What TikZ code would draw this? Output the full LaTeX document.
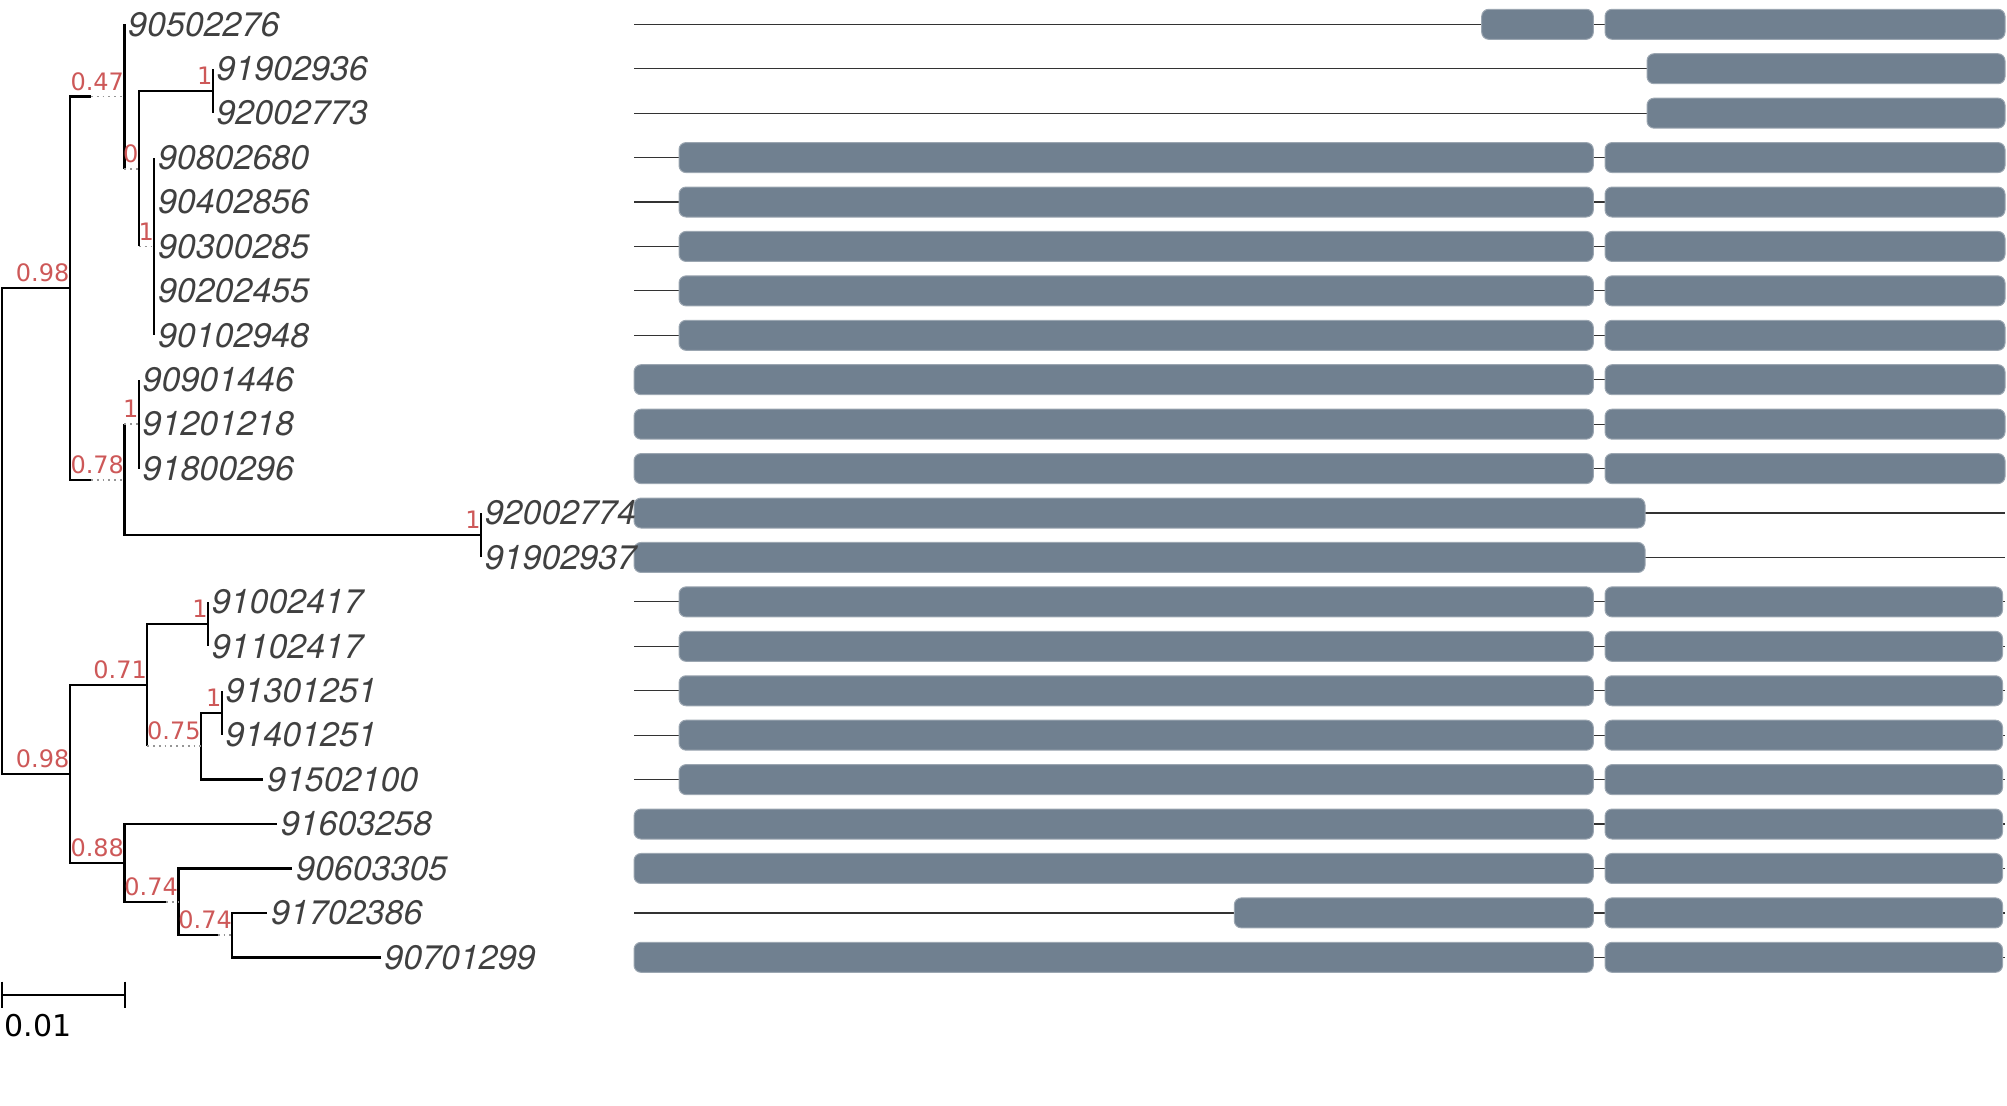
\documentclass[tikz,border=0pt]{standalone}
\usepackage{fontspec}
\usepackage{tikz}
\newfontfamily\leaffont[Numbers=Monospaced]{TeX Gyre Heros}
\newfontfamily\supfont{DejaVu Sans}
\definecolor{SupportRed}{RGB}{205,88,88}
\definecolor{LeafGray}  {RGB}{64,64,64}
\definecolor{BarSlate}  {RGB}{112,128,144}
\definecolor{ExtGray}   {RGB}{150,150,150}

\begin{document}
\begin{tikzpicture}[x=0.5pt,y=-0.5pt,
  branch/.style={draw=black,line width=1.2pt},
  ext/.style={draw=ExtGray,line width=0.9pt,dotted},
  sup/.style={anchor=base east,inner sep=0pt,yshift=3.2pt,text=SupportRed,
              font=\supfont\fontsize{12}{13}\selectfont},
  leaf/.style={anchor=west,inner xsep=1.9pt,inner ysep=0pt,outer sep=0pt,
               text=LeafGray,font=\leaffont\itshape\fontsize{17}{18}\selectfont},
  track/.style={draw=black!80,line width=0.6pt},
  bar/.style={fill=BarSlate,draw=BarSlate!70!white,line width=0.5pt,
              rounded corners=3.5pt}]
  \useasboundingbox (0,0) rectangle (2007,1106);
  %% Tracks and bars
  \foreach \r in {0,...,21}
    \draw[track] (634,24.3+44.43*\r) -- (2005,24.3+44.43*\r);
  \foreach \r/\s/\e in {0/1481.7/2005,3/679/2005,4/679/2005,5/679/2005,
      6/679/2005,7/679/2005,8/634/2005,9/634/2005,10/634/2005,
      13/679/2002.5,14/679/2002.5,15/679/2002.5,16/679/2002.5,17/679/2002.5,
      18/634/2002.5,19/634/2002.5,20/1234.3/2002.5,21/634/2002.5}{
    \draw[bar] (\s,{24.3+44.43*\r-15}) rectangle (1593.3,{24.3+44.43*\r+15});
    \draw[bar] (1605,{24.3+44.43*\r-15}) rectangle (\e,{24.3+44.43*\r+15});
  }
  \foreach \r/\s/\e in {1/1647/2005,2/1647/2005,11/634/1645,12/634/1645}
    \draw[bar] (\s,{24.3+44.43*\r-15}) rectangle (\e,{24.3+44.43*\r+15});
  %% Leaves
  \foreach \id/\r/\x in {90502276/0/124.4,91902936/1/212.7,92002773/2/212.7,
      90802680/3/154.2,90402856/4/154.2,90300285/5/154.2,90202455/6/154.2,
      90102948/7/154.2,90901446/8/138.9,91201218/9/138.9,91800296/10/138.9,
      92002774/11/481,91902937/12/481,91002417/13/208,91102417/14/208,
      91301251/15/221.8,91401251/16/221.8,91502100/17/263.3,91603258/18/277,
      90603305/19/292.3,91702386/20/267.4,90701299/21/380.6}
    \node[leaf] (s\id) at (\x,24.3+44.43*\r) {\id};
  %% Inner nodes
  \coordinate (R) at (2,531.1);
  \coordinate (A) at (69.7,288.1);
  \coordinate (B) at (124.4,96.5);    \coordinate (Bs) at (91,96.5);
  \coordinate (D) at (138.9,168.7);   \coordinate (Ds) at (124.4,168.7);
  \coordinate (E) at (212.7,90.95);
  \coordinate (F) at (154.2,246.45);  \coordinate (Fs) at (138.9,246.45);
  \coordinate (C) at (124.4,479.71);  \coordinate (Cs) at (91,479.71);
  \coordinate (G) at (138.9,424.17);  \coordinate (Gs) at (124.4,424.17);
  \coordinate (H) at (481,535.25);
  \coordinate (I) at (69.7,774.05);
  \coordinate (J) at (147.2,685.2);
  \coordinate (L) at (208,624.1);
  \coordinate (M) at (201,746.29);    \coordinate (Ms) at (147.2,746.29);
  \coordinate (N) at (221.8,712.97);
  \coordinate (K) at (124.4,862.9);
  \coordinate (O) at (178.3,901.8);   \coordinate (Os) at (166,901.8);
  \coordinate (P) at (232.2,935.1);   \coordinate (Ps) at (217.7,935.1);
  %% Branches
  \foreach \p/\c in {R/A,R/I,A/Bs,A/Cs,B/s90502276.west,B/Ds,D/E,D/Fs,
      E/s91902936.west,E/s92002773.west,F/s90802680.west,F/s90402856.west,
      F/s90300285.west,F/s90202455.west,F/s90102948.west,C/Gs,C/H,
      G/s90901446.west,G/s91201218.west,G/s91800296.west,
      H/s92002774.west,H/s91902937.west,I/J,I/K,J/L,J/Ms,
      L/s91002417.west,L/s91102417.west,M/N,M/s91502100.west,
      N/s91301251.west,N/s91401251.west,K/s91603258.west,K/Os,
      O/s90603305.west,O/Ps,P/s91702386.west,P/s90701299.west}
    \draw[branch] (\p) |- (\c);
  \foreach \a/\b in {Bs/B,Cs/C,Ds/D,Fs/F,Gs/G,Ms/M,Os/O,Ps/P}
    \draw[ext] (\a) -- (\b);
  %% Support values
  \foreach \n/\v in {A/0.98,B/0.47,C/0.78,D/0,E/1,F/1,G/1,H/1,
      I/0.98,J/0.71,K/0.88,L/1,M/0.75,N/1,O/0.74,P/0.74}
    \node[sup] (lab\n) at (\n) {\v};
  %% Scale
  \draw[branch,line width=1pt] (2,981.7) -- (2,1008) (2,995) -- (125.2,995)
       (125.2,981.7) -- (125.2,1008);
  \node[anchor=base west,inner sep=0pt,font=\supfont\fontsize{15}{16}\selectfont]
       (scalelab) at (4,1036.7) {0.01};
\end{tikzpicture}
\end{document}
